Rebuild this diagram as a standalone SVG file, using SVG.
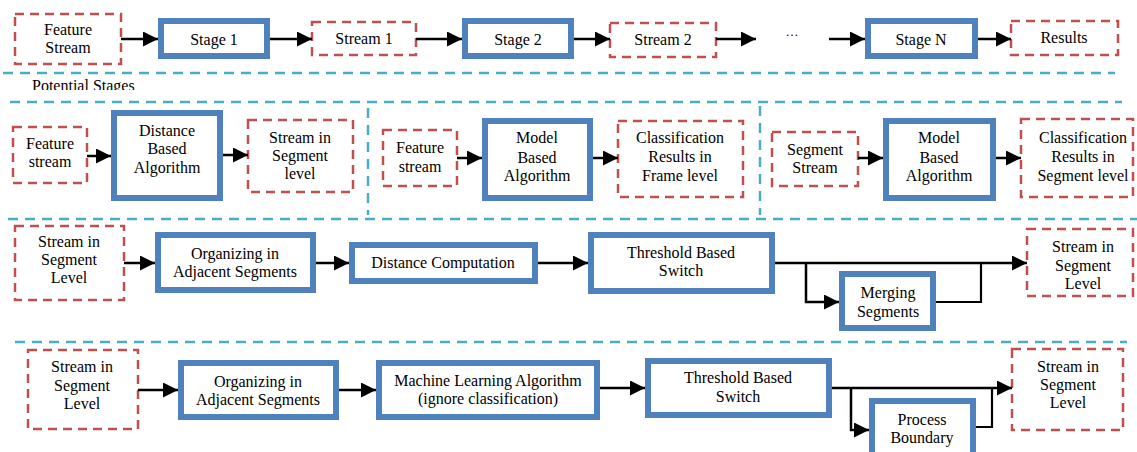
<svg xmlns="http://www.w3.org/2000/svg" width="1137" height="452" viewBox="0 0 1137 452">
<style>
.bg{fill:#fff}
.st{fill:#fff;stroke:#C0504D;stroke-width:2.5;stroke-dasharray:9 6}
.pr{fill:#fff;stroke:#4F81BD;stroke-width:6}
.sep{fill:none;stroke:#4BACC6;stroke-width:2.5;stroke-dasharray:10 7}
.ar{fill:none;stroke:#000;stroke-width:2.5;marker-end:url(#ah)}
.ln{fill:none;stroke:#000;stroke-width:2.2}
text{font-family:"Liberation Serif","Times New Roman","DejaVu Serif",serif;font-size:16px;fill:#000;text-anchor:middle}
</style>
<defs>
<marker id="ah" markerUnits="userSpaceOnUse" markerWidth="15" markerHeight="15" refX="15" refY="7.5" orient="auto">
<path d="M0,0 L15,7.5 L0,15 z" fill="#000"/>
</marker>
<clipPath id="clipPS"><rect x="0" y="74" width="300" height="16"/></clipPath>
</defs>
<rect class="bg" x="0" y="0" width="1137" height="452"/>

<g id="separators">
<line class="sep" x1="3" y1="73" x2="1115" y2="73"/>
<line class="sep" x1="10" y1="102" x2="1122" y2="102"/>
<line class="sep" x1="368" y1="108" x2="368" y2="215"/>
<line class="sep" x1="760" y1="106" x2="760" y2="215"/>
<line class="sep" x1="8" y1="219" x2="1137" y2="219"/>
<line class="sep" x1="15" y1="342" x2="1127" y2="342"/>
</g>
<text x="32" y="91" style="text-anchor:start" clip-path="url(#clipPS)">Potential Stages</text>

<!-- Row 1 -->
<g id="r1-feature"><rect class="st" x="15" y="14" width="106" height="50"/><text x="68" y="35">Feature</text><text x="68" y="53">Stream</text></g>
<g id="r1-stage1"><rect class="pr" x="161" y="21" width="106" height="35"/><text x="214" y="45">Stage 1</text></g>
<g id="r1-stream1"><rect class="st" x="312" y="22" width="104" height="33"/><text x="364" y="44">Stream 1</text></g>
<g id="r1-stage2"><rect class="pr" x="465" y="21" width="106" height="35"/><text x="518" y="45">Stage 2</text></g>
<g id="r1-stream2"><rect class="st" x="610" y="23" width="106" height="34"/><text x="663" y="45">Stream 2</text></g>
<g id="r1-dots"><text x="792" y="36" style="font-size:13px">…</text></g>
<g id="r1-stageN"><rect class="pr" x="868" y="21" width="107" height="35"/><text x="921" y="45">Stage N</text></g>
<g id="r1-results"><rect class="st" x="1011" y="21" width="107" height="34"/><text x="1064" y="43">Results</text></g>

<!-- Row 2 -->
<g id="p1-feature"><rect class="st" x="13" y="127" width="74" height="56"/><text x="50" y="149">Feature</text><text x="50" y="167">stream</text></g>
<g id="p1-distance"><rect class="pr" x="114" y="113" width="106" height="85"/><text x="167" y="136">Distance</text><text x="167" y="154">Based</text><text x="167" y="173">Algorithm</text></g>
<g id="p1-out"><rect class="st" x="248" y="120" width="105" height="72"/><text x="300" y="143">Stream in</text><text x="300" y="161">Segment</text><text x="300" y="179">level</text></g>

<g id="p2-feature"><rect class="st" x="383" y="130" width="74" height="56"/><text x="420" y="153">Feature</text><text x="420" y="172">stream</text></g>
<g id="p2-model"><rect class="pr" x="485" y="121" width="105" height="77"/><text x="537" y="143">Model</text><text x="537" y="163">Based</text><text x="537" y="181">Algorithm</text></g>
<g id="p2-out"><rect class="st" x="618" y="121" width="125" height="76"/><text x="680" y="143">Classification</text><text x="680" y="162">Results in</text><text x="680" y="181">Frame level</text></g>

<g id="p3-segment"><rect class="st" x="772" y="132" width="86" height="54"/><text x="815" y="155">Segment</text><text x="815" y="173">Stream</text></g>
<g id="p3-model"><rect class="pr" x="886" y="121" width="107" height="77"/><text x="939" y="143">Model</text><text x="939" y="163">Based</text><text x="939" y="181">Algorithm</text></g>
<g id="p3-out"><rect class="st" x="1021" y="119" width="112" height="78"/><text x="1083" y="143">Classification</text><text x="1083" y="162">Results in</text><text x="1083" y="181">Segment level</text></g>

<!-- Row 3 -->
<g id="r3-in"><rect class="st" x="15" y="226" width="109" height="74"/><text x="69" y="247">Stream in</text><text x="69" y="265">Segment</text><text x="69" y="283">Level</text></g>
<g id="r3-org"><rect class="pr" x="158" y="235" width="155" height="55"/><text x="235" y="259">Organizing in</text><text x="235" y="277">Adjacent Segments</text></g>
<g id="r3-dist"><rect class="pr" x="352" y="245" width="183" height="36"/><text x="443" y="268">Distance Computation</text></g>
<g id="r3-thr"><rect class="pr" x="591" y="235" width="181" height="56"/><text x="681" y="258">Threshold Based</text><text x="681" y="276">Switch</text></g>
<g id="r3-merge"><rect class="pr" x="842" y="274" width="91" height="54"/><text x="888" y="298">Merging</text><text x="888" y="317">Segments</text></g>
<g id="r3-out"><rect class="st" x="1027" y="229" width="106" height="67"/><text x="1083" y="252">Stream in</text><text x="1083" y="271">Segment</text><text x="1083" y="289">Level</text></g>

<!-- Row 4 -->
<g id="r4-in"><rect class="st" x="28" y="350" width="110" height="79"/><text x="82" y="372">Stream in</text><text x="82" y="391">Segment</text><text x="82" y="409">Level</text></g>
<g id="r4-org"><rect class="pr" x="181" y="363" width="155" height="54"/><text x="258" y="387">Organizing in</text><text x="258" y="405">Adjacent Segments</text></g>
<g id="r4-ml"><rect class="pr" x="379" y="363" width="218" height="54"/><text x="488" y="386">Machine Learning Algorithm</text><text x="488" y="404">(ignore classification)</text></g>
<g id="r4-thr"><rect class="pr" x="648" y="361" width="181" height="54"/><text x="738" y="383">Threshold Based</text><text x="738" y="402">Switch</text></g>
<g id="r4-pb"><rect class="pr" x="872" y="401" width="101" height="60"/><text x="922" y="425">Process</text><text x="922" y="443">Boundary</text></g>
<g id="r4-out"><rect class="st" x="1012" y="349" width="111" height="81"/><text x="1068" y="372">Stream in</text><text x="1068" y="390">Segment</text><text x="1068" y="408">Level</text></g>

<g id="connectors">
<line class="ar" x1="121" y1="39" x2="158" y2="39"/>
<line class="ar" x1="270" y1="39" x2="312" y2="39"/>
<line class="ar" x1="416" y1="39" x2="462" y2="39"/>
<line class="ar" x1="574" y1="39" x2="610" y2="39"/>
<line class="ar" x1="716" y1="39" x2="756" y2="39"/>
<line class="ar" x1="829" y1="39" x2="865" y2="39"/>
<line class="ar" x1="978" y1="39" x2="1011" y2="39"/>

<line class="ar" x1="87" y1="156" x2="111" y2="156"/>
<line class="ar" x1="223" y1="155" x2="248" y2="155"/>
<line class="ar" x1="457" y1="158" x2="482" y2="158"/>
<line class="ar" x1="593" y1="158" x2="618" y2="158"/>
<line class="ar" x1="858" y1="158" x2="883" y2="158"/>
<line class="ar" x1="996" y1="158" x2="1021" y2="158"/>

<line class="ar" x1="124" y1="263" x2="155" y2="263"/>
<line class="ar" x1="316" y1="263" x2="349" y2="263"/>
<line class="ar" x1="538" y1="263" x2="588" y2="263"/>
<line class="ar" x1="775" y1="263" x2="1027" y2="263"/>
<path class="ar" d="M806,263 V302 H839"/>
<path class="ln" d="M936,302 H981 V263"/>

<line class="ar" x1="138" y1="390" x2="178" y2="390"/>
<line class="ar" x1="339" y1="390" x2="376" y2="390"/>
<line class="ar" x1="600" y1="388" x2="645" y2="388"/>
<line class="ar" x1="832" y1="388" x2="1012" y2="388"/>
<path class="ar" d="M851,388 V430 H869"/>
<path class="ln" d="M976,427 H992 V388"/>
</g>
</svg>
